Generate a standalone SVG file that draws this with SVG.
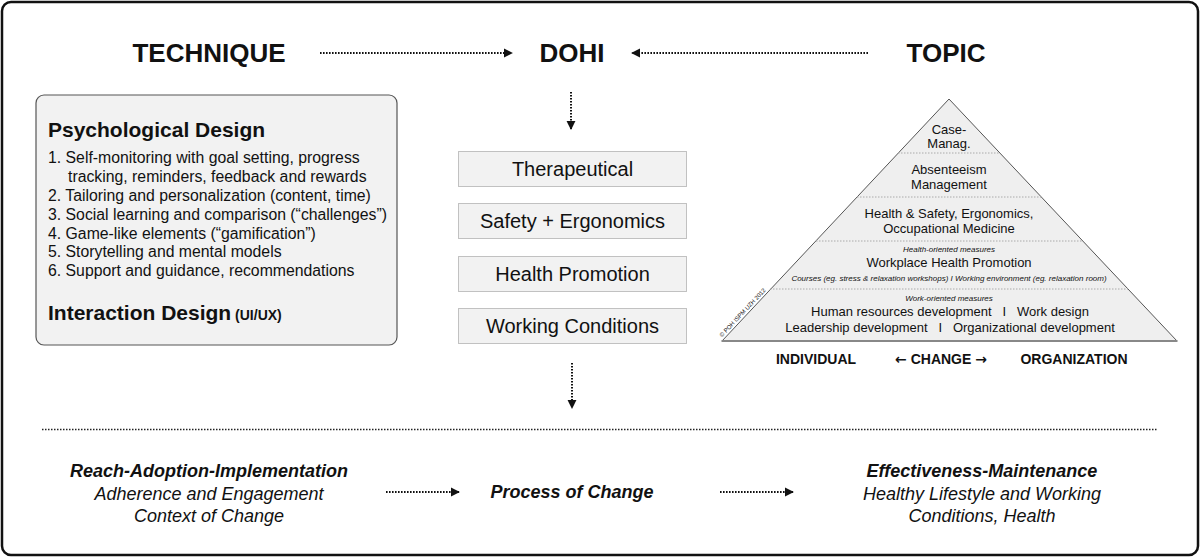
<svg xmlns="http://www.w3.org/2000/svg" width="1200" height="558" viewBox="0 0 1200 558">
<defs>
<style>
text{font-family:"Liberation Sans",Arial,sans-serif;fill:#111}
.h{font-size:26px;font-weight:bold;text-anchor:middle}
.b{font-size:20px;text-anchor:middle}
.li{font-size:15.8px}
.pt{font-size:13px;text-anchor:middle}
.ps{font-size:8px;font-style:italic;text-anchor:middle}
.ax{font-size:14px;font-weight:bold;text-anchor:middle}
.ar{font-family:"DejaVu Sans",sans-serif;font-weight:bold}
.bi{font-size:18px;font-weight:bold;font-style:italic;text-anchor:middle}
.it{font-size:18px;font-style:italic;text-anchor:middle}
.dot{stroke:#111;stroke-width:2;stroke-dasharray:1.6 1.4;fill:none}
.box{fill:#f2f2f2;stroke:#8a8a8a;stroke-width:1;stroke-dasharray:1 1}
.sep{stroke:#aaa;stroke-width:1;stroke-dasharray:1.5 1.5}
</style>
<marker id="ah" viewBox="0 0 10 10" refX="9" refY="5" markerWidth="4.6" markerHeight="4.6" orient="auto" markerUnits="strokeWidth">
<path d="M0,0 L10,5 L0,10 z" fill="#111"/>
</marker>
</defs>
<rect x="2" y="2" width="1196" height="553" rx="9" fill="#fff" stroke="#111" stroke-width="2.5"/>

<g id="technique"><text class="h" x="209" y="62">TECHNIQUE</text></g>
<g id="dohi"><text class="h" x="572" y="62">DOHI</text></g>
<g id="topic"><text class="h" x="946" y="62">TOPIC</text></g>

<g id="design-box">
<rect x="36" y="95" width="361" height="250" rx="8" fill="#f2f2f2" stroke="#555" stroke-width="1.2"/>
<text x="48" y="136.5" font-size="21" font-weight="bold">Psychological Design</text>
<text class="li" x="48" y="163">1. Self-monitoring with goal setting, progress</text>
<text class="li" x="68" y="182">tracking, reminders, feedback and rewards</text>
<text class="li" x="48" y="201">2. Tailoring and personalization (content, time)</text>
<text class="li" x="48" y="220">3. Social learning and comparison (“challenges”)</text>
<text class="li" x="48" y="238.5">4. Game-like elements (“gamification”)</text>
<text class="li" x="48" y="257">5. Storytelling and mental models</text>
<text class="li" x="48" y="276">6. Support and guidance, recommendations</text>
<text x="48" y="319.5" font-size="21" font-weight="bold">Interaction Design<tspan font-size="14"> (UI/UX)</tspan></text>
</g>

<g id="therapeutical"><rect class="box" x="458.5" y="151.5" width="228" height="35"/><text class="b" x="572.5" y="176">Therapeutical</text></g>
<g id="safety"><rect class="box" x="458.5" y="203.5" width="228" height="35"/><text class="b" x="572.5" y="228">Safety + Ergonomics</text></g>
<g id="health-promotion"><rect class="box" x="458.5" y="256.5" width="228" height="35"/><text class="b" x="572.5" y="281">Health Promotion</text></g>
<g id="working-conditions"><rect class="box" x="458.5" y="308.5" width="228" height="35"/><text class="b" x="572.5" y="333">Working Conditions</text></g>

<g id="pyramid">
<polygon points="949,99 1177,341 722,341" fill="#efefef" stroke="#555" stroke-width="1"/>
<line x1="721.5" y1="341" x2="1177.5" y2="341" stroke="#888" stroke-width="2"/>
<line class="sep" x1="898" y1="153" x2="1000" y2="153"/>
<line class="sep" x1="857" y1="197" x2="1041" y2="197"/>
<line class="sep" x1="816" y1="241" x2="1082" y2="241"/>
<line class="sep" x1="770" y1="289" x2="1128" y2="289"/>
<text class="pt" x="949" y="134">Case-</text>
<text class="pt" x="949" y="148">Manag.</text>
<text class="pt" x="949" y="174">Absenteeism</text>
<text class="pt" x="949" y="189">Management</text>
<text class="pt" x="949" y="218">Health &amp; Safety, Ergonomics,</text>
<text class="pt" x="949" y="233">Occupational Medicine</text>
<text class="ps" x="949" y="252">Health-oriented measures</text>
<text class="pt" x="949" y="267">Workplace Health Promotion</text>
<text class="ps" x="949" y="281">Courses (eg. stress &amp; relaxation workshops) I Working environment (eg. relaxation room)</text>
<text class="ps" x="949" y="301">Work-oriented measures</text>
<text class="pt" x="950" y="316" xml:space="preserve">Human resources development   I   Work design</text>
<text class="pt" x="950" y="331.5" xml:space="preserve">Leadership development   I   Organizational development</text>
<text x="722" y="337.5" font-size="6" fill="#444" transform="rotate(-46.8 722 337.5)">© POH ISPM UZH 2012</text>
</g>

<g id="axis">
<text class="ax" x="816" y="364">INDIVIDUAL</text>
<text class="ax" x="941" y="364"><tspan class="ar">←</tspan> CHANGE <tspan class="ar">→</tspan></text>
<text class="ax" x="1074" y="364">ORGANIZATION</text>
</g>

<g id="outcomes">
<text class="bi" x="209" y="476.5">Reach-Adoption-Implementation</text>
<text class="it" x="209" y="500">Adherence and Engagement</text>
<text class="it" x="209" y="522">Context of Change</text>
<text class="bi" x="572" y="498">Process of Change</text>
<text class="bi" x="982" y="476.5">Effectiveness-Maintenance</text>
<text class="it" x="982" y="500">Healthy Lifestyle and Working</text>
<text class="it" x="982" y="522">Conditions, Health</text>
</g>

<g id="connectors">
<line class="dot" x1="320" y1="53" x2="512" y2="53" marker-end="url(#ah)"/>
<line class="dot" x1="868" y1="53" x2="632" y2="53" marker-end="url(#ah)"/>
<line class="dot" x1="571" y1="92" x2="571" y2="129" marker-end="url(#ah)"/>
<line class="dot" x1="572" y1="363" x2="572" y2="408" marker-end="url(#ah)"/>
<line class="dot" x1="386" y1="492" x2="459" y2="492" marker-end="url(#ah)"/>
<line class="dot" x1="720" y1="492" x2="793" y2="492" marker-end="url(#ah)"/>
<line x1="42" y1="429.5" x2="1158" y2="429.5" stroke="#222" stroke-width="1.6" stroke-dasharray="1.5 1.5"/>
</g>
</svg>
